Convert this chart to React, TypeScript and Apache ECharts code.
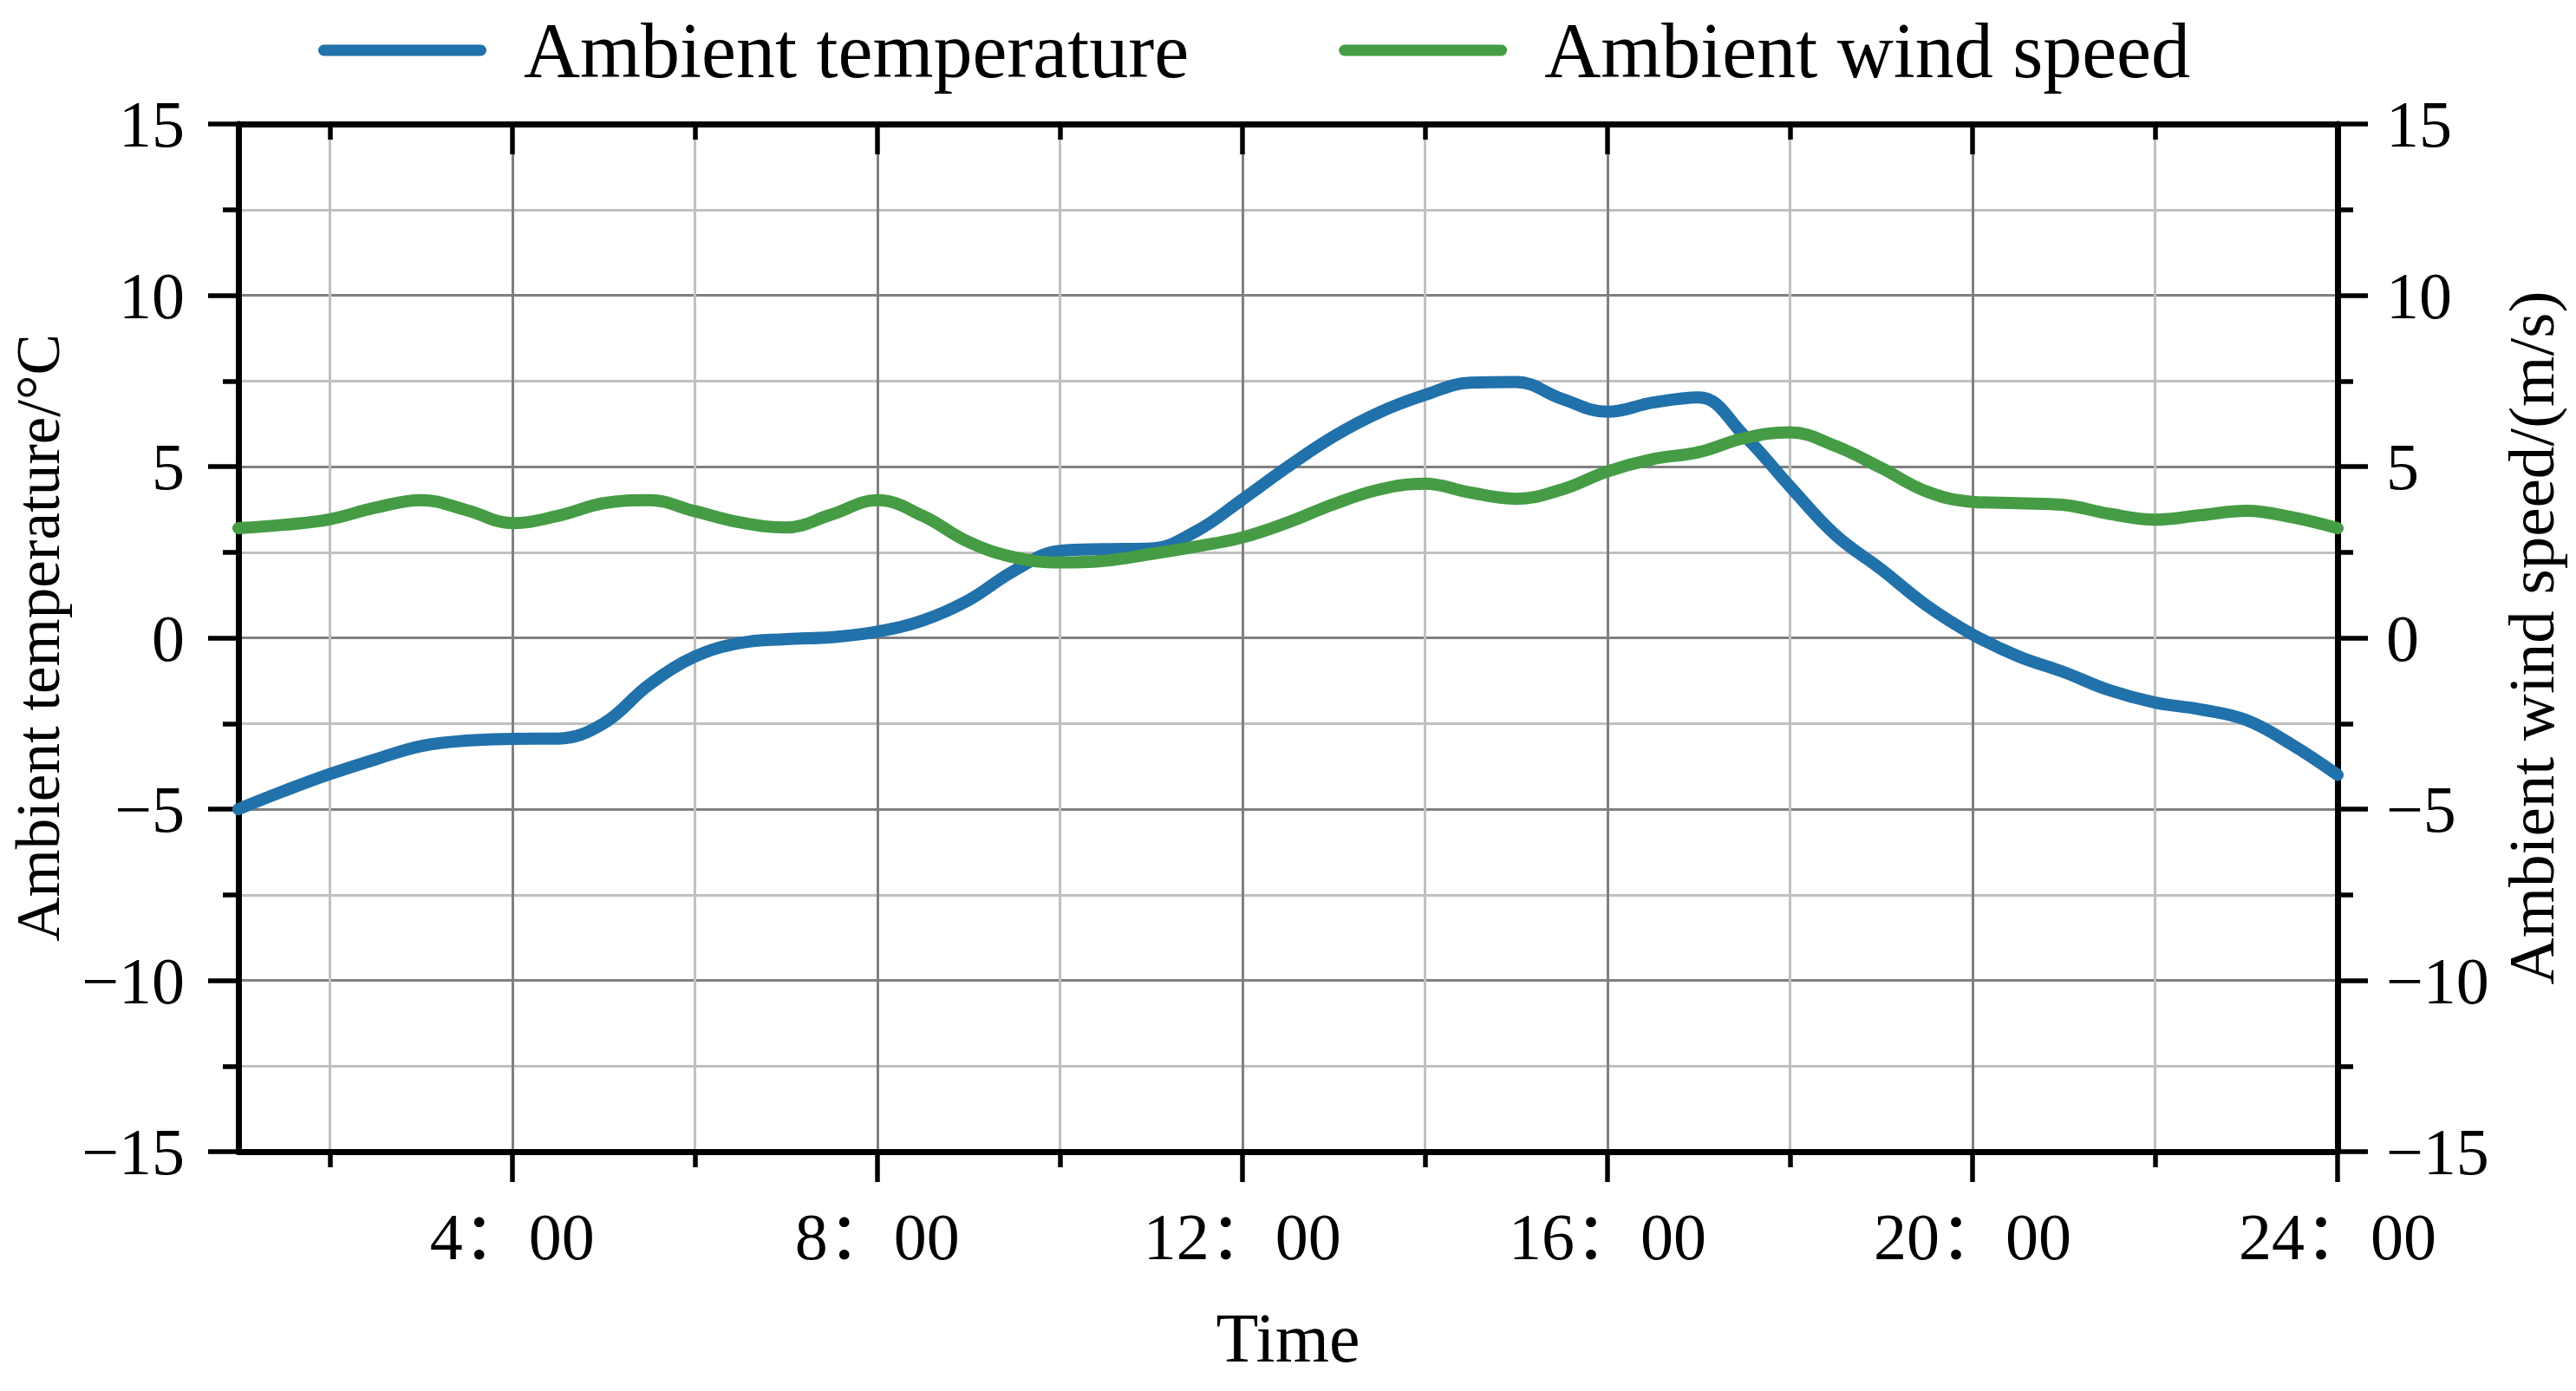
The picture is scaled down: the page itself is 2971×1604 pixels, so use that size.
import React, { useEffect, useRef } from 'react';
import * as echarts from 'echarts';

const HOURS = [
  1, 1.5, 2, 2.5, 3, 3.5, 4, 4.5, 5, 5.5, 6, 6.5, 7, 7.5, 8, 8.5, 9, 9.5, 10, 10.5, 11, 11.5,
  12, 12.5, 13, 13.5, 14, 14.5, 15, 15.5, 16, 16.5, 17, 17.5, 18, 18.5, 19, 19.5, 20, 20.5,
  21, 21.5, 22, 22.5, 23, 23.5, 24,
];

const TEMPERATURE = [
  -5.0, -4.47, -3.98, -3.55, -3.16, -3.0, -2.95, -2.94, -2.5, -1.37, -0.55, -0.15, -0.04, 0.02,
  0.18, 0.51, 1.1, 1.96, 2.54, 2.59, 2.61, 3.12, 4.04, 5.0, 5.88, 6.58, 7.09, 7.45, 7.47, 6.98,
  6.6, 6.87, 7.02, 5.9, 4.42, 3.0, 2.0, 0.94, 0.1, -0.54, -1.0, -1.53, -1.89, -2.09, -2.4, -3.12,
  -4.0,
];

const WIND_SPEED = [
  3.2, 3.3, 3.46, 3.8, 4.02, 3.73, 3.35, 3.56, 3.93, 4.02, 3.7, 3.37, 3.22, 3.6, 4.02, 3.56, 2.8,
  2.35, 2.2, 2.25, 2.45, 2.67, 2.93, 3.37, 3.9, 4.33, 4.5, 4.24, 4.06, 4.33, 4.86, 5.22, 5.42,
  5.83, 6.0, 5.6, 4.96, 4.27, 3.97, 3.93, 3.88, 3.62, 3.45, 3.58, 3.71, 3.52, 3.2,
];

const MAJOR_HOURS = [4, 8, 12, 16, 20, 24];
const MINOR_HOURS = [2, 6, 10, 14, 18, 22];
const X_MIN = 1;
const X_MAX = 24;
const Y_MIN = -15;
const Y_MAX = 15;
const Y_STEP = 5;

const SERIES_NAMES = ['Ambient temperature', 'Ambient wind speed'];
const X_NAME = 'Time';
const Y_LEFT_NAME = 'Ambient temperature/°C';
const Y_RIGHT_NAME = 'Ambient wind speed/(m/s)';

const BLUE = '#2171aa';
const GREEN = '#459c45';
const FONT = "'Liberation Serif', 'Times New Roman', 'Noto Sans CJK SC', serif";

export default function App() {
  const ref = useRef<HTMLDivElement>(null);

  useEffect(() => {
    if (!ref.current) return;
    const chart = echarts.init(ref.current, null, { renderer: 'svg' });

    const fmtY = (v: number) => (v < 0 ? '\u2212' + Math.abs(v) : String(v));
    const fmtX = (v: number) => `${v}\uFF1A00`;
    const axisLine = { show: true, onZero: false, lineStyle: { color: '#000', width: 7 } };
    const noLine = { show: false, onZero: false };
    const tickStyle = { color: '#000', width: 5.5 };
    const labelStyle = { color: '#000', fontFamily: FONT, fontSize: 76 };
    const majorGrid = { show: true, lineStyle: { color: '#808080', width: 3 } };
    const minorGrid = { show: true, lineStyle: { color: '#c0c0c0', width: 3 } };
    const xBase = { type: 'value', min: X_MIN, max: X_MAX };

    const option: any = {
      animation: false,
      backgroundColor: '#ffffff',
      grid: { left: 275, right: 275, top: 143, bottom: 276, containLabel: false },
      legend: {
        data: SERIES_NAMES,
        left: 362,
        top: 8,
        itemWidth: 194,
        itemHeight: 13,
        itemGap: 173,
        icon: 'path://M6.5 0H187.5A6.5 6.5 0 0 1 187.5 13H6.5A6.5 6.5 0 0 1 6.5 0Z',
        itemStyle: { borderWidth: 0 },
        textStyle: { fontFamily: FONT, fontSize: 90, color: '#000', padding: [0, 0, 0, 38] },
      },
      xAxis: [
        {
          ...xBase,
          position: 'bottom',
          axisLine,
          axisTick: { show: true, customValues: MAJOR_HOURS, length: 35, lineStyle: tickStyle },
          axisLabel: { show: true, customValues: MAJOR_HOURS, formatter: fmtX, margin: 60, ...labelStyle },
          splitLine: majorGrid,
          name: X_NAME,
          nameLocation: 'middle',
          nameGap: 175,
          nameTextStyle: { fontFamily: FONT, fontSize: 80, color: '#000' },
        },
        {
          ...xBase,
          position: 'bottom',
          axisLine: noLine,
          axisTick: { show: true, customValues: MINOR_HOURS, length: 18, lineStyle: tickStyle },
          axisLabel: { show: false },
          splitLine: minorGrid,
        },
        {
          ...xBase,
          position: 'top',
          axisLine,
          axisTick: { show: true, inside: true, customValues: MAJOR_HOURS, length: 35, lineStyle: tickStyle },
          axisLabel: { show: false },
          splitLine: { show: false },
        },
        {
          ...xBase,
          position: 'top',
          axisLine: noLine,
          axisTick: { show: true, inside: true, customValues: MINOR_HOURS, length: 18, lineStyle: tickStyle },
          axisLabel: { show: false },
          splitLine: { show: false },
        },
      ],
      yAxis: [
        {
          type: 'value',
          position: 'left',
          min: Y_MIN,
          max: Y_MAX,
          interval: Y_STEP,
          axisLine,
          axisTick: { show: true, length: 35, lineStyle: tickStyle },
          minorTick: { show: true, splitNumber: 2, length: 18, lineStyle: tickStyle },
          splitLine: majorGrid,
          minorSplitLine: minorGrid,
          axisLabel: { formatter: fmtY, margin: 62, ...labelStyle },
          name: Y_LEFT_NAME,
          nameLocation: 'middle',
          nameRotate: 90,
          nameGap: 196,
          nameTextStyle: { fontFamily: FONT, fontSize: 71, color: '#000' },
        },
        {
          type: 'value',
          position: 'right',
          min: Y_MIN,
          max: Y_MAX,
          interval: Y_STEP,
          axisLine,
          axisTick: { show: true, length: 35, lineStyle: tickStyle },
          minorTick: { show: true, splitNumber: 2, length: 18, lineStyle: tickStyle },
          splitLine: { show: false },
          minorSplitLine: { show: false },
          axisLabel: { formatter: fmtY, margin: 56, ...labelStyle },
          name: Y_RIGHT_NAME,
          nameLocation: 'middle',
          nameRotate: 90,
          nameGap: 176,
          nameTextStyle: { fontFamily: FONT, fontSize: 75, color: '#000' },
        },
      ],
      series: [
        {
          name: SERIES_NAMES[0],
          type: 'line',
          xAxisIndex: 0,
          yAxisIndex: 0,
          data: HOURS.map((h, i) => [h, TEMPERATURE[i]]),
          smooth: 0.4,
          symbol: 'none',
          lineStyle: { color: BLUE, width: 14, cap: 'round', join: 'round' },
          itemStyle: { color: BLUE },
          z: 3,
        },
        {
          name: SERIES_NAMES[1],
          type: 'line',
          xAxisIndex: 0,
          yAxisIndex: 1,
          data: HOURS.map((h, i) => [h, WIND_SPEED[i]]),
          smooth: 0.4,
          symbol: 'none',
          lineStyle: { color: GREEN, width: 14, cap: 'round', join: 'round' },
          itemStyle: { color: GREEN },
          z: 4,
        },
      ],
    };

    chart.setOption(option);
    return () => chart.dispose();
  }, []);

  return (
    <div
      ref={ref}
      style={{ position: 'absolute', left: 0, top: 0, width: 2971, height: 1604, background: '#fff' }}
    />
  );
}
